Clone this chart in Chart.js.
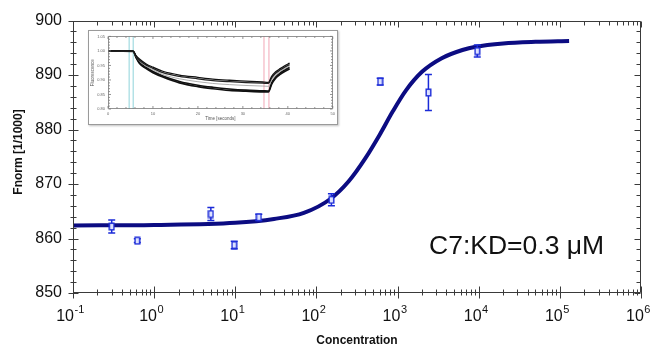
<!DOCTYPE html>
<html>
<head>
<meta charset="utf-8">
<script src="https://cdn.jsdelivr.net/npm/chart.js@4.4.0/dist/chart.umd.min.js"></script>
<style>
  html, body { margin: 0; padding: 0; background: #fff; }
  #wrap { position: relative; width: 650px; height: 348px; }
  #mainChart { position: absolute; left: 0; top: 0; }
  #insetBox { position: absolute; left: 88px; top: 30px; width: 248px; height: 93px; border: 1px solid #9a9a9a; background: #fff; box-shadow: 1px 1px 2px rgba(0,0,0,0.25); }
  #insetChart { display: block; }
</style>
</head>
<body>
<div id="wrap">
  <canvas id="mainChart" width="650" height="348"></canvas>
  <div id="insetBox"><canvas id="insetChart" width="248" height="93"></canvas></div>
</div>
<script>
// measured points (concentration, Fnorm, error)
const concentration = [0.3, 0.62, 5, 9.7, 19.5, 153, 610, 2400, 9600];
const fnorm = [862.2, 859.6, 864.5, 858.8, 863.9, 867.1, 888.8, 886.8, 894.4];
const fnormErr = [1.2, 0.35, 1.2, 0.7, 0.55, 1.1, 0.6, 3.3, 1.1];

// fitted curve
const fitConc = [0.1, 1, 10, 30, 70, 150, 250, 400, 600, 870, 1270, 2000, 3500, 6300, 9200, 20000, 50000, 130000];
const fitFnorm = [862.4, 862.5, 862.9, 863.6, 864.7, 867.3, 870.5, 874.7, 879.0, 883.3, 887.2, 890.6, 893.1, 894.6, 895.2, 895.8, 896.1, 896.25];

const yTicks = [850, 860, 870, 880, 890, 900];
const xDecades = [-1, 0, 1, 2, 3, 4, 5, 6];
const kdLabel = "C7:KD=0.3 μM";

// inset: time traces
const insetTime = [0, 5.6, 6.2, 7, 8.5, 10, 12.2, 15.9, 20, 23.3, 27, 30.7, 34.4, 35.7, 36.4, 37.3, 38.3, 39.3, 40.4];
const upperA = [1.000, 1.000, 0.985, 0.972, 0.955, 0.944, 0.930, 0.917, 0.909, 0.903, 0.899, 0.896, 0.893, 0.892, 0.912, 0.928, 0.939, 0.949, 0.958];
const upperB = [1.000, 0.999, 0.983, 0.968, 0.951, 0.940, 0.925, 0.912, 0.904, 0.898, 0.894, 0.891, 0.889, 0.888, 0.907, 0.923, 0.934, 0.944, 0.953];
const midTrace = [1.000, 0.999, 0.982, 0.965, 0.947, 0.935, 0.919, 0.904, 0.894, 0.888, 0.884, 0.881, 0.879, 0.878, 0.900, 0.917, 0.929, 0.939, 0.948];
const lowerA = [1.000, 0.999, 0.980, 0.960, 0.943, 0.929, 0.914, 0.895, 0.882, 0.875, 0.869, 0.865, 0.863, 0.862, 0.890, 0.910, 0.924, 0.934, 0.943];
const lowerB = [1.000, 0.998, 0.978, 0.957, 0.939, 0.925, 0.910, 0.890, 0.877, 0.870, 0.864, 0.861, 0.859, 0.859, 0.885, 0.906, 0.919, 0.929, 0.938];
const cyanCursor = [4.7, 5.6];
const redCursor = [34.7, 35.8];

const FONT = "'Liberation Sans', Arial, sans-serif";

// little open box used as marker
const marker = document.createElement('canvas');
marker.width = 7; marker.height = 9;
(function () {
  const c = marker.getContext('2d');
  c.fillStyle = '#dde2ff';
  c.fillRect(1, 1, 5, 7);
  c.strokeStyle = '#1b2bd8';
  c.lineWidth = 1.4;
  c.strokeRect(1.2, 1.2, 4.6, 6.6);
})();

const mainPlugin = {
  id: 'mainPlugin',
  beforeDatasetDraw(chart, args) {
    if (args.index !== 0) return;
    const ctx = chart.ctx, xs = chart.scales.x, ys = chart.scales.y;
    ctx.save();
    ctx.strokeStyle = '#1b2bd8';
    ctx.lineWidth = 1.5;
    concentration.forEach((c, i) => {
      const px = xs.getPixelForValue(c);
      const top = ys.getPixelForValue(fnorm[i] + fnormErr[i]);
      const bot = ys.getPixelForValue(fnorm[i] - fnormErr[i]);
      ctx.beginPath();
      ctx.moveTo(px, top); ctx.lineTo(px, bot);
      ctx.moveTo(px - 3.5, top); ctx.lineTo(px + 3.5, top);
      ctx.moveTo(px - 3.5, bot); ctx.lineTo(px + 3.5, bot);
      ctx.stroke();
    });
    ctx.restore();
  },
  afterDraw(chart) {
    const ctx = chart.ctx, a = chart.chartArea, xs = chart.scales.x, ys = chart.scales.y;
    const L = Math.round(a.left) + 0.5, R = Math.round(a.right) - 0.5;
    const T = Math.round(a.top) + 0.5, B = Math.round(a.bottom) - 0.5;
    ctx.save();
    ctx.strokeStyle = '#3a3a3a';
    ctx.lineWidth = 1;
    ctx.beginPath();
    ctx.rect(L, T, R - L, B - T);
    // y ticks
    for (let v = yTicks[0]; v <= yTicks[yTicks.length - 1]; v += 2) {
      const py = Math.round(ys.getPixelForValue(v)) + 0.5;
      const major = v % 10 === 0;
      const t = major ? 5 : 3;
      ctx.moveTo(L - t, py); ctx.lineTo(L + t, py);
      ctx.moveTo(R - (major ? 6 : 4), py); ctx.lineTo(R, py);
    }
    // x ticks
    xDecades.forEach(d => {
      for (let m = 1; m <= 9; m++) {
        if (d === xDecades[xDecades.length - 1] && m > 1) break;
        const px = Math.round(xs.getPixelForValue(m * Math.pow(10, d))) + 0.5;
        const major = m === 1;
        const t = major ? 6 : 3;
        ctx.moveTo(px, B - t); ctx.lineTo(px, B + t);
        ctx.moveTo(px, T); ctx.lineTo(px, T + (major ? 6 : 4));
      }
    });
    ctx.stroke();

    // x tick labels 10^n
    ctx.fillStyle = '#111';
    ctx.textBaseline = 'alphabetic';
    ctx.textAlign = 'left';
    xDecades.forEach(d => {
      const px = xs.getPixelForValue(Math.pow(10, d));
      ctx.font = '16px ' + FONT;
      const wb = ctx.measureText('10').width;
      ctx.font = '11px ' + FONT;
      const exp = String(d);
      const we = ctx.measureText(exp).width;
      const x0 = px - 3 - (wb + we) / 2;
      ctx.font = '16px ' + FONT;
      ctx.fillText('10', x0, 321);
      ctx.font = '11px ' + FONT;
      ctx.fillText(exp, x0 + wb + 0.5, 313);
    });

    // axis titles
    ctx.font = 'bold 12px ' + FONT;
    ctx.textAlign = 'center';
    ctx.textBaseline = 'middle';
    ctx.fillText('Concentration', (a.left + a.right) / 2, 341);
    ctx.save();
    ctx.translate(19, 152);
    ctx.rotate(-Math.PI / 2);
    ctx.fillText('Fnorm [1/1000]', 0, 0);
    ctx.restore();

    // KD annotation
    ctx.font = '26.5px ' + FONT;
    ctx.textAlign = 'left';
    ctx.textBaseline = 'alphabetic';
    ctx.fillText(kdLabel, 429, 254);
    ctx.restore();
  }
};

new Chart(document.getElementById('mainChart'), {
  type: 'line',
  data: {
    datasets: [
      {
        label: 'data',
        data: concentration.map((c, i) => ({ x: c, y: fnorm[i] })),
        showLine: false,
        pointStyle: marker,
        pointRadius: 4,
      },
      {
        label: 'fit',
        data: fitConc.map((c, i) => ({ x: c, y: fitFnorm[i] })),
        borderColor: '#0c0c82',
        borderWidth: 4,
        pointRadius: 0,
        cubicInterpolationMode: 'monotone',
      },
    ],
  },
  options: {
    responsive: false,
    animation: false,
    devicePixelRatio: 1,
    layout: { padding: { top: 18, right: 9, bottom: 0, left: 0 } },
    plugins: { legend: { display: false }, tooltip: { enabled: false } },
    scales: {
      x: {
        type: 'logarithmic',
        min: 0.1,
        max: 1e6,
        ticks: { display: false },
        grid: { display: false, drawTicks: false },
        border: { display: false },
        afterFit(scale) { scale.height = 55; },
      },
      y: {
        type: 'linear',
        min: 850,
        max: 900,
        afterBuildTicks(scale) { scale.ticks = yTicks.map(v => ({ value: v })); },
        ticks: { font: { size: 16, family: FONT }, color: '#111', padding: 11 },
        grid: { display: false, drawTicks: false },
        border: { display: false },
        afterFit(scale) { scale.width = 73; },
      },
    },
  },
  plugins: [mainPlugin],
});

// ---------- inset ----------
const insetPlugin = {
  id: 'insetPlugin',
  beforeDatasetsDraw(chart) {
    const ctx = chart.ctx, a = chart.chartArea, xs = chart.scales.x;
    ctx.save();
    ctx.lineWidth = 1;
    ctx.strokeStyle = '#8fd3da';
    cyanCursor.forEach(t => {
      const px = xs.getPixelForValue(t);
      ctx.beginPath(); ctx.moveTo(px, a.top); ctx.lineTo(px, a.bottom); ctx.stroke();
    });
    ctx.strokeStyle = '#f2a6b6';
    redCursor.forEach(t => {
      const px = xs.getPixelForValue(t);
      ctx.beginPath(); ctx.moveTo(px, a.top); ctx.lineTo(px, a.bottom); ctx.stroke();
    });
    ctx.restore();
  },
  afterDraw(chart) {
    const ctx = chart.ctx, a = chart.chartArea, xs = chart.scales.x, ys = chart.scales.y;
    const L = Math.round(a.left) + 0.5, R = Math.round(a.right) - 0.5;
    const T = Math.round(a.top) + 0.5, B = Math.round(a.bottom) - 0.5;
    ctx.save();
    ctx.strokeStyle = '#777';
    ctx.lineWidth = 0.8;
    ctx.beginPath();
    ctx.rect(L, T, R - L, B - T);
    for (let t = 0; t <= 50; t += 2) {
      const px = xs.getPixelForValue(t);
      const len = t % 10 === 0 ? 2.5 : 1.5;
      ctx.moveTo(px, B); ctx.lineTo(px, B - len);
      ctx.moveTo(px, T); ctx.lineTo(px, T + len);
    }
    for (let k = 0; k <= 25; k++) {
      const py = ys.getPixelForValue(0.80 + k * 0.01);
      const len = k % 5 === 0 ? 2.5 : 1.5;
      ctx.moveTo(L, py); ctx.lineTo(L + len, py);
      ctx.moveTo(R, py); ctx.lineTo(R - len, py);
    }
    ctx.stroke();
    ctx.fillStyle = '#555';
    ctx.font = '4.5px ' + FONT;
    ctx.textAlign = 'center';
    ctx.textBaseline = 'middle';
    ctx.fillText('Time [seconds]', (a.left + a.right) / 2, 88);
    ctx.save();
    ctx.translate(4, (a.top + a.bottom) / 2);
    ctx.rotate(-Math.PI / 2);
    ctx.fillText('Fluorescence', 0, 0);
    ctx.restore();
    ctx.restore();
  }
};

function trace(values, color, width) {
  return {
    data: insetTime.map((t, i) => ({ x: t, y: values[i] })),
    borderColor: color,
    borderWidth: width,
    pointRadius: 0,
    cubicInterpolationMode: 'monotone',
  };
}

new Chart(document.getElementById('insetChart'), {
  type: 'line',
  data: {
    datasets: [
      trace(upperA, '#111', 1.3),
      trace(upperB, '#222', 1.3),
      trace(midTrace, '#999', 0.8),
      trace(lowerA, '#111', 1.6),
      trace(lowerB, '#111', 1.6),
    ],
  },
  options: {
    responsive: false,
    animation: false,
    devicePixelRatio: 1,
    layout: { padding: { top: 2, right: 4, bottom: 0, left: 0 } },
    plugins: { legend: { display: false }, tooltip: { enabled: false } },
    scales: {
      x: {
        type: 'linear',
        min: 0,
        max: 50,
        ticks: { stepSize: 10, font: { size: 4, family: FONT }, color: '#666', padding: 2, maxRotation: 0 },
        grid: { display: false, drawTicks: false },
        border: { display: false },
        afterFit(scale) { scale.height = 15; },
      },
      y: {
        type: 'linear',
        min: 0.80,
        max: 1.05,
        ticks: { stepSize: 0.05, font: { size: 4, family: FONT }, color: '#666', padding: 3,
                 callback: v => v.toFixed(2) },
        grid: { display: false, drawTicks: false },
        border: { display: false },
        afterFit(scale) { scale.width = 19; },
      },
    },
  },
  plugins: [insetPlugin],
});
</script>
</body>
</html>
